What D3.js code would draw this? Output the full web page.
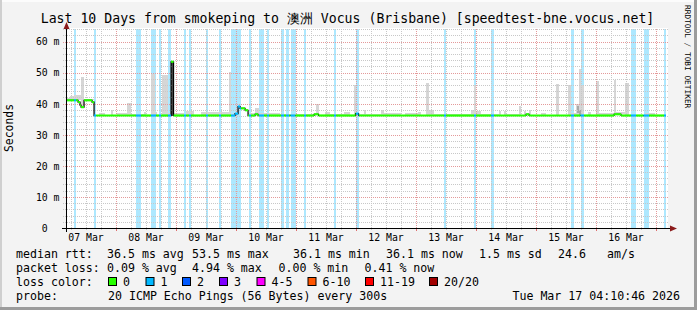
<!DOCTYPE html>
<html><head><meta charset="utf-8">
<script src="https://cdn.jsdelivr.net/npm/d3@7"></script>
<style>
html,body{margin:0;padding:0;background:#f3f3f3;}
svg{display:block;}
text{font-family:"DejaVu Sans Mono",monospace;fill:#000;}
</style></head><body>
<svg id="c" width="697" height="310"></svg>
<script>
// ---------------- DATA ----------------
const titleText = "Last 10 Days from smokeping to 澳洲 Vocus (Brisbane) [speedtest-bne.vocus.net]";
const yAxisTitle = "Seconds";
const periodStart = "2026-03-07T04:10:46Z";
const periodEnd   = "2026-03-17T04:10:46Z";
const yMax = 64.2;                       // ms, top of value axis
const yTickValues = [0, 10, 20, 30, 40, 50, 60];
const yTickLabels = ["0", "10 m", "20 m", "30 m", "40 m", "50 m", "60 m"];
const dayLabels = ["07 Mar","08 Mar","09 Mar","10 Mar","11 Mar","12 Mar","13 Mar","14 Mar","15 Mar","16 Mar"];

// times below: hours since 2026-03-07 00:00
// median rtt steps: [from, to, ms]
const medianSteps = [
  [4.18, 9.0, 41.1], [9.0, 9.8, 40.5], [9.8, 10.2, 39.5], [10.2, 11.4, 38.9],
  [11.4, 14.6, 41.1], [14.6, 15.4, 40.5], [15.4, 46.2, 36.2], [46.2, 47.2, 53.5],
  [47.2, 71.8, 36.2], [71.8, 73.0, 36.8], [73.0, 73.8, 39.1], [73.8, 75.8, 38.5],
  [75.8, 77.0, 37.9], [77.0, 79.8, 36.2], [79.8, 81.0, 36.6], [81.0, 103.4, 36.2],
  [103.4, 105.2, 36.6], [105.2, 120.0, 36.2], [120.0, 121.2, 36.8], [121.2, 188.2, 36.2],
  [188.2, 189.4, 36.6], [189.4, 223.4, 36.2], [223.4, 226.2, 36.6], [226.2, 244.18, 36.2]
];
// packet loss periods: [from, to, lost pings of 20]
const lossPeriods = [
  [7.4, 8.2, 1], [15.4, 16.2, 1], [32.2, 34.2, 1], [38.2, 40.2, 1], [41.4, 42.2, 1],
  [45.0, 46.2, 1], [51.4, 52.2, 1], [53.4, 54.2, 1], [60.2, 61.0, 1], [65.4, 66.2, 1],
  [70.2, 74.2, 1], [77.4, 78.2, 1], [81.4, 83.4, 1], [84.6, 85.4, 1], [90.2, 91.4, 1],
  [92.2, 93.4, 1], [94.0, 96.0, 1], [99.4, 100.2, 1], [111.4, 112.2, 1], [120.2, 121.4, 1],
  [155.4, 156.2, 1], [167.4, 168.2, 1], [174.2, 175.4, 1], [206.2, 207.4, 1], [210.0, 211.4, 1],
  [230.2, 232.2, 1], [235.2, 237.4, 1], [243.4, 244.18, 1]
];
// smoke (ping spread) upper edge: [from, to, ms]
const smokeTop = [
  [4.2, 5.8, 41.8], [5.8, 7.4, 42.4], [7.4, 10.2, 42.9], [10.2, 11.4, 48.6], [11.4, 15.4, 41.5],
  [17.4, 19.8, 37.1], [22.2, 23.0, 38.0], [24.6, 28.6, 37.1], [28.6, 30.2, 40.3], [30.2, 35.4, 36.6],
  [35.4, 36.0, 37.4], [38.2, 39.6, 49.6], [39.6, 40.6, 37.4], [42.6, 45.0, 49.3], [45.0, 46.2, 37.0],
  [47.4, 51.4, 37.1], [52.2, 55.4, 37.5], [58.2, 69.4, 37.2], [69.4, 70.2, 50.2], [70.2, 71.8, 36.8],
  [77.0, 79.8, 37.0], [79.8, 81.4, 38.7], [81.4, 89.8, 37.1], [89.8, 104.2, 36.8], [104.2, 105.4, 40.0],
  [107.8, 109.8, 37.4], [109.8, 115.4, 36.8], [115.4, 117.8, 37.4], [119.4, 120.2, 46.1], [120.2, 123.4, 36.8],
  [123.4, 124.2, 38.1], [124.2, 130.2, 36.8], [130.2, 131.4, 37.9], [131.4, 138.2, 37.1], [139.8, 145.0, 37.1],
  [145.0, 146.2, 37.4], [148.2, 149.4, 46.8], [149.4, 151.4, 37.9], [151.4, 166.2, 36.8], [166.2, 167.4, 37.9],
  [167.4, 168.2, 46.1], [168.2, 170.2, 37.5], [170.2, 177.4, 36.8], [177.4, 178.2, 37.5], [179.4, 180.2, 37.5],
  [180.2, 185.4, 36.8], [185.4, 186.2, 39.3], [187.4, 188.2, 37.5], [189.4, 190.2, 38.1], [194.2, 196.2, 37.1],
  [200.2, 201.4, 46.4], [205.0, 206.2, 46.1], [206.2, 208.2, 37.0], [208.2, 209.4, 40.0], [209.4, 210.2, 51.3],
  [210.2, 211.4, 46.1], [213.0, 214.2, 37.4], [216.2, 217.4, 47.2], [217.4, 223.2, 37.0], [223.2, 224.2, 47.7],
  [224.2, 227.8, 37.4], [227.8, 229.4, 46.8], [235.8, 239.8, 37.1]
];
// dense smoke core: [from, to, low ms, high ms]
const smokeCore = [
  [46.2, 47.2, 36.2, 53.5], [208.4, 209.4, 36.9, 39.3], [209.4, 210.2, 36.4, 38.0]
];

const rttLabel = "median rtt:";
const rttStats = ["36.5 ms avg", "53.5 ms max", "36.1 ms min", "36.1 ms now", "1.5 ms sd", "24.6", "am/s"];
const lossLabel = "packet loss:";
const lossStats = ["0.09 % avg", "4.94 % max", "0.00 % min", "0.41 % now"];
const lossColorLabel = "loss color:";
const lossLevels = ["0", "1", "2", "3", "4-5", "6-10", "11-19", "20/20"];
const lossLevelMax = [0, 1, 2, 3, 5, 10, 19, 20];
const lossColors = ["#26ff00", "#00b8ff", "#0059ff", "#7e00ff", "#ff00ff", "#ff5500", "#ff0000", "#a10000"];
const probeLabel = "probe:";
const probeText = "20 ICMP Echo Pings (56 Bytes) every 300s";
const stampText = "Tue Mar 17 04:10:46 2026";
const watermark = "RRDTOOL / TOBI OETIKER";

// ---------------- DRAW ----------------
const svg = d3.select("#c");
const base = Date.UTC(2026, 2, 7);
const T = h => new Date(base + h * 3600000);

const x = d3.scaleUtc().domain([new Date(periodStart), new Date(periodEnd)]).range([66, 666]);
const y = d3.scaleLinear().domain([0, yMax]).range([228, 28.5]);

// frame
svg.append("rect").attr("x",0).attr("y",0).attr("width",697).attr("height",310).attr("fill","#f3f3f3");
svg.append("rect").attr("x",0).attr("y",0).attr("width",697).attr("height",2).attr("fill","#fcfcfc");
svg.append("rect").attr("x",0).attr("y",0).attr("width",2).attr("height",310).attr("fill","#cfcfcf");
svg.append("rect").attr("x",0).attr("y",307).attr("width",697).attr("height",3).attr("fill","#9c9c9c");
svg.append("rect").attr("x",694).attr("y",0).attr("width",3).attr("height",310).attr("fill","#9c9c9c");

// plot background
svg.append("rect").attr("x",66).attr("y",28).attr("width",602).attr("height",200).attr("fill","#ffffff");

const plot = svg.append("g").attr("shape-rendering","crispEdges");

// loss background bars
const lossIdx = n => lossLevelMax.findIndex(m => n <= m);
const bgColor = c => { const k = d3.color(c); return d3.interpolateRgb(k, "#ffffff")(0.68); };
plot.selectAll("rect.loss").data(lossPeriods).join("rect")
  .attr("x", d => x(T(d[0]))).attr("width", d => x(T(d[1])) - x(T(d[0])))
  .attr("y", y(yMax)).attr("height", y(0) - y(yMax))
  .attr("fill", d => bgColor(lossColors[lossIdx(d[2])]));

// median lookup
const medianAt = h => { const s = medianSteps.find(d => h >= d[0] && h < d[1]); return s ? s[2] : 36.2; };

// smoke
plot.selectAll("rect.smoke").data(smokeTop).join("rect")
  .attr("x", d => x(T(d[0]))).attr("width", d => x(T(d[1])) - x(T(d[0])))
  .attr("y", d => y(d[2]))
  .attr("height", d => Math.max(0, y(medianAt((d[0]+d[1])/2)) - y(d[2])))
  .attr("fill", "#d6d6d6");
plot.selectAll("rect.core").data(smokeCore).join("rect")
  .attr("x", d => x(T(d[0]))).attr("width", d => x(T(d[1])) - x(T(d[0])))
  .attr("y", d => y(d[3])).attr("height", d => y(d[2]) - y(d[3]))
  .attr("fill", (d,i) => i === 0 ? "#4a4a4a" : "#a8a8a8");

// grid
const grid = svg.append("g").attr("shape-rendering","crispEdges");
const t0 = new Date(periodStart), t1 = new Date(periodEnd);
const sixH = d3.utcHour.every(6).range(t0, t1).filter(d => d.getUTCHours() !== 0);
const days = d3.utcDay.range(t0, t1);
const crisp = v => Math.round(v) + 0.5;
grid.selectAll("line.vmin").data(sixH).join("line")
  .attr("x1", d => crisp(x(d))).attr("x2", d => crisp(x(d)))
  .attr("y1", y(yMax)).attr("y2", 231)
  .attr("stroke", "#c8c8c8").attr("stroke-dasharray", "1,1");
grid.selectAll("line.vmaj").data(days).join("line")
  .attr("x1", d => crisp(x(d))).attr("x2", d => crisp(x(d)))
  .attr("y1", y(yMax)).attr("y2", 231)
  .attr("stroke", "#e49a9a").attr("stroke-dasharray", "1,1");
const hMinor = d3.range(2, yMax, 2).filter(v => v % 10 !== 0);
grid.selectAll("line.hmin").data(hMinor).join("line")
  .attr("x1", 63).attr("x2", 669)
  .attr("y1", d => crisp(y(d))).attr("y2", d => crisp(y(d)))
  .attr("stroke", "#c8c8c8").attr("stroke-dasharray", "1,1");
grid.selectAll("line.hmaj").data(yTickValues.filter(v => v > 0)).join("line")
  .attr("x1", 63).attr("x2", 669)
  .attr("y1", d => crisp(y(d))).attr("y2", d => crisp(y(d)))
  .attr("stroke", "#e49a9a").attr("stroke-dasharray", "1,1");

// median: black step line then loss-coloured horizontals
const medPts = medianSteps.map(d => [T(d[0]), d[2]]);
medPts.push([T(medianSteps[medianSteps.length-1][1]), medianSteps[medianSteps.length-1][2]]);
const stepLine = d3.line().x(d => x(d[0])).y(d => y(d[1])).curve(d3.curveStepAfter);
svg.append("path").attr("d", stepLine(medPts)).attr("fill","none")
  .attr("stroke","#000").attr("stroke-width",1.2);

const colSegs = [];
medianSteps.forEach(s => {
  const cuts = [s[0], s[1]];
  lossPeriods.forEach(l => { if (l[0] > s[0] && l[0] < s[1]) cuts.push(l[0]); if (l[1] > s[0] && l[1] < s[1]) cuts.push(l[1]); });
  cuts.sort((a,b) => a-b);
  for (let i = 0; i < cuts.length-1; i++) {
    const mid = (cuts[i] + cuts[i+1]) / 2;
    const l = lossPeriods.find(p => mid >= p[0] && mid < p[1]);
    colSegs.push([cuts[i], cuts[i+1], s[2], l ? l[2] : 0]);
  }
});
svg.append("g").selectAll("line").data(colSegs).join("line")
  .attr("x1", d => x(T(d[0]))).attr("x2", d => x(T(d[1])))
  .attr("y1", d => y(d[2])).attr("y2", d => y(d[2]))
  .attr("stroke", d => lossColors[lossIdx(d[3])]).attr("stroke-width", 2.2);

// axes lines
const ax = svg.append("g").attr("shape-rendering","crispEdges");
ax.append("line").attr("x1",62).attr("x2",671).attr("y1",228.5).attr("y2",228.5).attr("stroke","#000");
ax.append("line").attr("x1",66.5).attr("x2",66.5).attr("y1",232).attr("y2",27).attr("stroke","#000");
svg.append("path").attr("d","M670,225.5 L677,228.5 L670,231.5 Z").attr("fill","#8b1a1a");
svg.append("path").attr("d","M63.5,29 L66.5,22 L69.5,29 Z").attr("fill","#8b1a1a");
// small day ticks below axis
ax.selectAll("line.dt").data(days).join("line")
  .attr("x1", d => crisp(x(d))).attr("x2", d => crisp(x(d))).attr("y1", 229).attr("y2", 231)
  .attr("stroke", "#e07070");

// x labels via axis (noon of each day)
const noons = dayLabels.map((_, i) => new Date(Date.UTC(2026, 2, 7 + i, 12)));
const xAxis = d3.axisBottom(x).tickValues(noons).tickSize(0).tickPadding(0)
  .tickFormat((d, i) => dayLabels[i]);
const gx = svg.append("g").attr("transform","translate(0,232)").call(xAxis);
gx.select(".domain").remove();
gx.selectAll("text").attr("font-family","DejaVu Sans Mono").attr("font-size","9.8px")
  .attr("dy","9px").attr("fill","#000");

// y labels via axis
const yAxis = d3.axisLeft(y).tickValues(yTickValues).tickSize(0).tickPadding(0)
  .tickFormat((d, i) => yTickLabels[i] === "0" ? "0\u00a0\u00a0" : yTickLabels[i]);
const gy = svg.append("g").attr("transform","translate(59.5,0)").call(yAxis);
gy.select(".domain").remove();
gy.selectAll("text").attr("font-family","DejaVu Sans Mono").attr("font-size","9.8px")
  .attr("dy","0.34em").attr("fill","#000");

// y axis title
svg.append("text").attr("transform","translate(13,128) rotate(-90)")
  .attr("text-anchor","middle").attr("font-size","11.4px").text(yAxisTitle);

// title
svg.append("text").attr("x",347.5).attr("y",23).attr("text-anchor","middle")
  .attr("font-family","'DejaVu Sans Mono','Noto Sans CJK SC',monospace")
  .attr("font-size","13.2px").text(titleText);

// watermark
svg.append("text").attr("transform","translate(685,5) rotate(90)")
  .attr("font-size","7.8px").attr("fill","#c6c6c6").text(watermark);

// legend
const lf = "11.6px";
const row = (txt, xx, yy, anchor) => svg.append("text").attr("x", xx).attr("y", yy)
  .attr("font-size", lf).attr("text-anchor", anchor || "start").attr("xml:space","preserve").text(txt);
const rttX = [107, 192, 293, 386, 479, 558, 607];
row(rttLabel, 16, 258);
rttStats.forEach((t, i) => row(t, rttX[i], 258));
const lossX = [107, 192, 278.5, 364.5];
row(lossLabel, 16, 272);
lossStats.forEach((t, i) => row(t, lossX[i], 272));
row(lossColorLabel, 16, 286);
const boxX = [108, 145.5, 182, 219, 256.5, 307.5, 365, 429];
lossLevels.forEach((t, i) => {
  svg.append("rect").attr("x", boxX[i] + 0.5).attr("y", 277.5).attr("width", 8).attr("height", 8)
    .attr("fill", lossColors[i]).attr("stroke", "#000").attr("stroke-width", 1);
  row(t, boxX[i] + 15, 286);
});
row(probeLabel, 16, 300);
row(probeText, 108, 300);
row(stampText, 680, 300, "end");
</script>
</body></html>
